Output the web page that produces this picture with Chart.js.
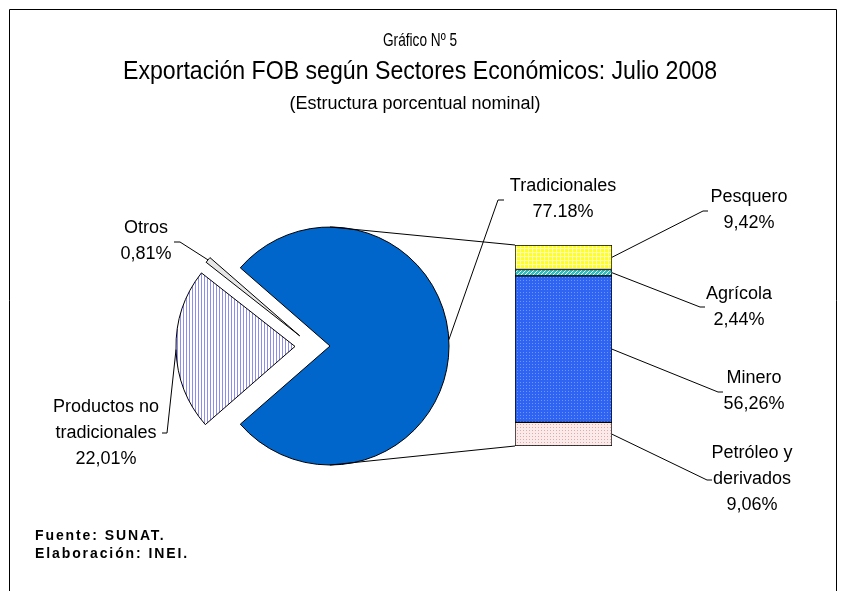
<!DOCTYPE html>
<html><head><meta charset="utf-8">
<script src="https://cdn.jsdelivr.net/npm/chart.js@4.4.1/dist/chart.umd.min.js"></script>
<style>
html,body{margin:0;padding:0;background:#fff;}
#wrap{position:relative;width:841px;height:591px;overflow:hidden;background:#fff;}
#wrap canvas{position:absolute;left:0;top:0;}
</style></head><body>
<div id="wrap"><canvas id="pie" width="841" height="591"></canvas><canvas id="bar" width="841" height="591"></canvas></div>
<script>
// ---- data ----
const pieCategories = ['Tradicionales', 'Productos no tradicionales', 'Otros'];
const pieValues = [77.18, 22.01, 0.81];
const barCategories = ['Petróleo y derivados', 'Minero', 'Agrícola', 'Pesquero'];
const barValues = [9.06, 56.26, 2.44, 9.42];
const pieLabelLines = [['Tradicionales'], ['Productos no', 'tradicionales'], ['Otros']];
const pieDecimalSep = ['.', ',', ','];
const barLabelLines = [['Petróleo y', 'derivados'], ['Minero'], ['Agrícola'], ['Pesquero']];
const titleLines = ['Gráfico Nº 5', 'Exportación FOB según Sectores Económicos: Julio 2008', '(Estructura porcentual nominal)'];
const footerLines = ['Fuente: SUNAT.', 'Elaboración: INEI.'];

// ---- helpers ----
function pct(v, sep) { return v.toFixed(2).replace('.', sep) + '%'; }
function makePattern(w, h, draw) {
  const c = document.createElement('canvas'); c.width = w; c.height = h;
  draw(c.getContext('2d'));
  return document.getElementById('pie').getContext('2d').createPattern(c, 'repeat');
}
const stripeFill = makePattern(3, 1, g => { g.fillStyle = '#ffffff'; g.fillRect(0,0,3,1); g.fillStyle = '#8c8cf2'; g.fillRect(0,0,1,1); });
const checkFill = makePattern(4, 4, g => { g.fillStyle = '#ffff22'; g.fillRect(0,0,4,4); g.fillStyle = '#ffffb8'; g.fillRect(0,0,4,1); g.fillRect(0,0,1,4); });
const hatchFill = makePattern(4, 4, g => { g.fillStyle = '#2fbfbf'; g.fillRect(0,0,4,4); g.fillStyle = '#e8ffff'; for (let i=0;i<4;i++) g.fillRect(i,3-i,1,1); });
const dotBlueFill = makePattern(3, 3, g => { g.fillStyle = '#2f63f2'; g.fillRect(0,0,3,3); g.fillStyle = '#6d95ff'; g.fillRect(1,1,1,1); });
const dotPinkFill = makePattern(3, 3, g => { g.fillStyle = '#fbeaea'; g.fillRect(0,0,3,3); g.fillStyle = '#e2a9a9'; g.fillRect(1,1,1,1); });

const pieTotal = pieValues.reduce((a, b) => a + b, 0);
const barTotal = barValues.reduce((a, b) => a + b, 0);
const tradHalfDeg = pieValues[0] / pieTotal * 180;
const explodePx = [18, 17, 16];   // slice separation (style)

// moves each slice outward along its mid angle, without enlarging it
const explodePlugin = {
  id: 'explode',
  afterUpdate(chart) {
    const a = chart.chartArea;
    const cx = (a.left + a.right) / 2, cy = (a.top + a.bottom) / 2;
    chart.getDatasetMeta(0).data.forEach((arc, i) => {
      const h = (arc.startAngle + arc.endAngle) / 2;
      arc.x = cx + Math.cos(h) * explodePx[i];
      arc.y = cy + Math.sin(h) * explodePx[i];
    });
  }
};

const pieChart = new Chart(document.getElementById('pie'), {
  type: 'pie',
  data: {
    labels: pieCategories,
    datasets: [{
      data: pieValues,
      backgroundColor: ['#0066cc', stripeFill, '#e6e6e6'],
      borderColor: '#000000',
      borderWidth: 1
    }]
  },
  options: {
    responsive: false, animation: false, devicePixelRatio: 1,
    rotation: 90 - tradHalfDeg,
    radius: 119,
    layout: { padding: { left: 162, top: 196, right: 379, bottom: 95 } },
    plugins: { legend: { display: false }, tooltip: { enabled: false } }
  },
  plugins: [explodePlugin]
});

function arcGeom(arc) {
  return { x: arc.x, y: arc.y, r: arc.outerRadius, h: (arc.startAngle + arc.endAngle) / 2 };
}

const labelFont = '18px "Liberation Sans", Arial, sans-serif';
const lineH = 26;
// label layout: text centre x, first line y, tick (near text) x, elbow x, tick y
const pieLabelLayout = [
  { cx: 563, y: 186, tx: 504, ex: 498, ty: 200, dAng: -3 },
  { cx: 106, y: 407, tx: 162, ex: 167, ty: 433, dAng: 0 },
  { cx: 146, y: 228, tx: 174, ex: 180, ty: 242, dAng: 0 }
];
const barLabelLayout = [
  { cx: 752, y: 453, tx: 712, ex: 707, ty: 480 },
  { cx: 754, y: 378, tx: 723, ex: 718, ty: 392 },
  { cx: 739, y: 294, tx: 705, ex: 700, ty: 307 },
  { cx: 749, y: 197, tx: 708, ex: 703, ty: 211 }
];

function drawScaledText(ctx, text, x, y, font, targetW) {
  ctx.save();
  ctx.font = font;
  const w = ctx.measureText(text).width;
  const s = targetW ? Math.min(1, targetW / w) : 1;
  ctx.translate(x, y);
  ctx.scale(s, 1);
  ctx.fillText(text, 0, 0);
  ctx.restore();
}

const decorPlugin = {
  id: 'decor',
  afterDraw(chart) {
    const ctx = chart.ctx;
    ctx.save();
    // frame
    ctx.strokeStyle = '#000'; ctx.lineWidth = 1;
    ctx.beginPath();
    ctx.moveTo(9.5, 591); ctx.lineTo(9.5, 9.5); ctx.lineTo(836.5, 9.5); ctx.lineTo(836.5, 591);
    ctx.stroke();

    // titles
    ctx.fillStyle = '#000'; ctx.textAlign = 'center'; ctx.textBaseline = 'middle';
    const nf = (s) => `${s}px "Liberation Sans Narrow", "Arial Narrow", "Liberation Sans", Arial, sans-serif`;
    drawScaledText(ctx, titleLines[0], 420, 41, nf(19), 74);
    drawScaledText(ctx, titleLines[1], 420, 72, nf(25), 594);
    drawScaledText(ctx, titleLines[2], 415, 104, nf(18), 252);

    // footer
    ctx.textAlign = 'left';
    ctx.font = 'bold 14px "Liberation Sans", Arial, sans-serif';
    ctx.letterSpacing = '1.9px';
    ctx.fillText(footerLines[0], 35, 536);
    ctx.fillText(footerLines[1], 35, 554);
    ctx.letterSpacing = '0px';

    // connectors pie -> bar
    const arcs = pieChart.getDatasetMeta(0).data;
    const g0 = arcGeom(arcs[0]);
    const topEl = chart.getDatasetMeta(barValues.length - 1).data[0];
    const botEl = chart.getDatasetMeta(0).data[0];
    const barLeft = topEl.x - topEl.width / 2;
    ctx.beginPath();
    ctx.moveTo(g0.x, g0.y - g0.r); ctx.lineTo(barLeft, topEl.y);
    ctx.moveTo(g0.x, g0.y + g0.r); ctx.lineTo(barLeft, botEl.base);
    ctx.stroke();

    ctx.font = labelFont; ctx.textAlign = 'center'; ctx.textBaseline = 'middle';
    // pie labels
    arcs.forEach((arc, i) => {
      const g = arcGeom(arc);
      const L = pieLabelLayout[i];
      const a = g.h + L.dAng * Math.PI / 180;
      ctx.beginPath();
      ctx.moveTo(L.tx, L.ty); ctx.lineTo(L.ex, L.ty);
      ctx.lineTo(g.x + Math.cos(a) * g.r, g.y + Math.sin(a) * g.r);
      ctx.stroke();
      const lines = pieLabelLines[i].concat([pct(pieValues[i], pieDecimalSep[i])]);
      lines.forEach((t, k) => ctx.fillText(t, L.cx, L.y + k * lineH));
    });
    // bar labels
    barValues.forEach((v, i) => {
      const el = chart.getDatasetMeta(i).data[0];
      const L = barLabelLayout[i];
      ctx.beginPath();
      ctx.moveTo(L.tx, L.ty); ctx.lineTo(L.ex, L.ty);
      ctx.lineTo(el.x + el.width / 2, (el.y + el.base) / 2);
      ctx.stroke();
      const lines = barLabelLines[i].concat([pct(v, ',')]);
      lines.forEach((t, k) => ctx.fillText(t, L.cx, L.y + k * lineH));
    });
    ctx.restore();
  }
};

const barFills = [dotPinkFill, dotBlueFill, hatchFill, checkFill];
new Chart(document.getElementById('bar'), {
  type: 'bar',
  data: {
    labels: [pieCategories[0]],
    datasets: barCategories.map((c, i) => ({
      label: c, data: [barValues[i]], backgroundColor: barFills[i],
      borderColor: '#000000', borderWidth: 1, borderSkipped: false,
      barPercentage: 1, categoryPercentage: 1
    }))
  },
  options: {
    responsive: false, animation: false, devicePixelRatio: 1,
    layout: { padding: { left: 515, right: 229, top: 245, bottom: 145 } },
    scales: {
      x: { display: false, stacked: true },
      y: { display: false, stacked: true, min: 0, max: barTotal }
    },
    plugins: { legend: { display: false }, tooltip: { enabled: false } }
  },
  plugins: [decorPlugin]
});
</script>
</body></html>
